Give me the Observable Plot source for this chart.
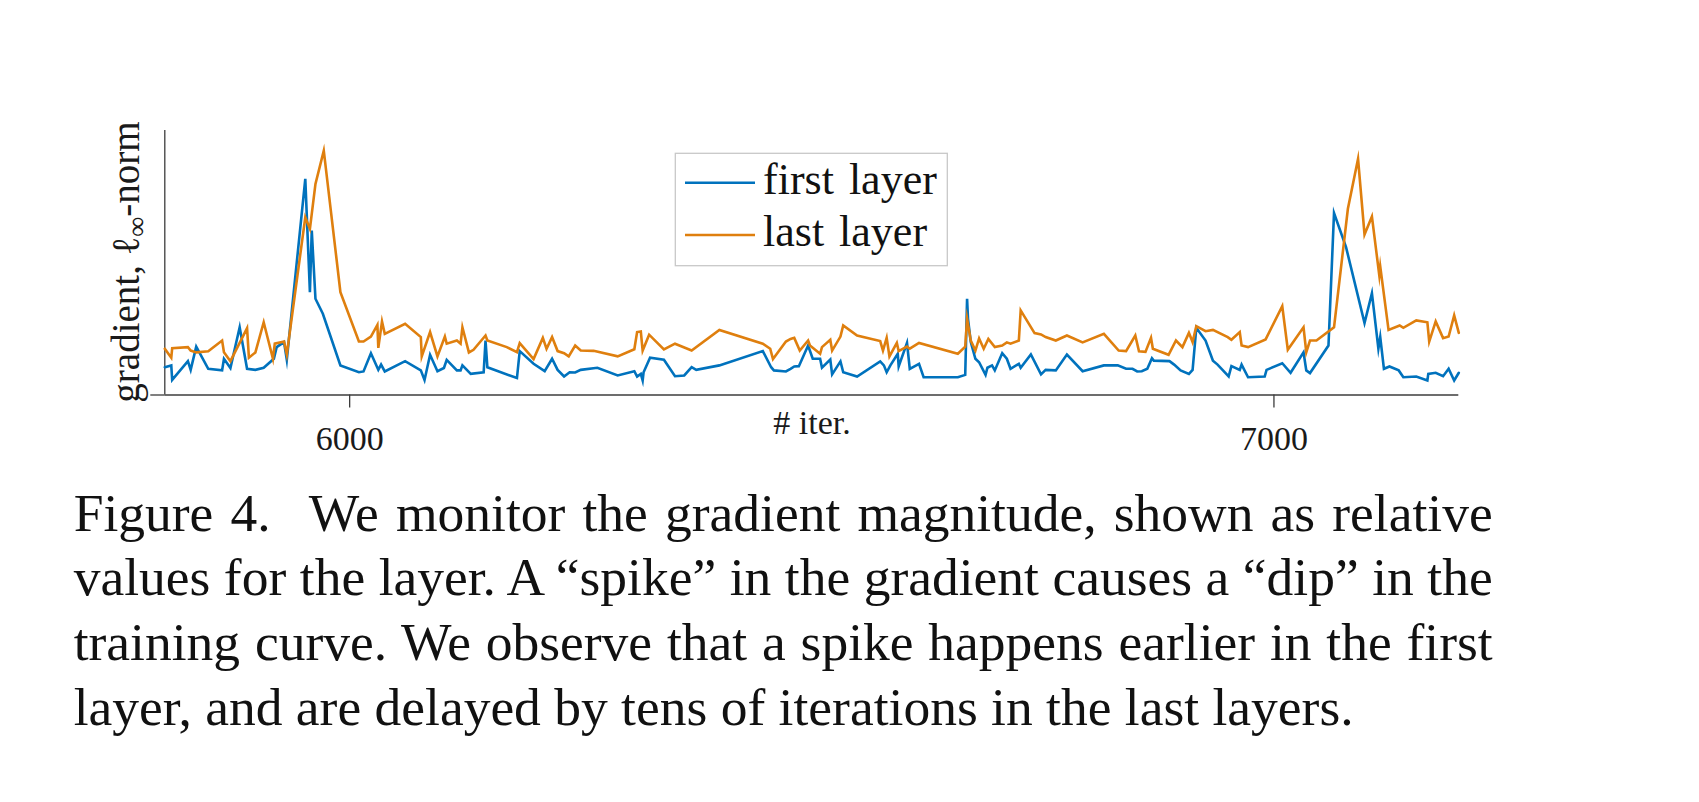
<!DOCTYPE html>
<html>
<head>
<meta charset="utf-8">
<script src="https://cdn.jsdelivr.net/npm/d3@7"></script>
<script src="https://cdn.jsdelivr.net/npm/@observablehq/plot@0.6"></script>
<style>
  html, body { margin: 0; padding: 0; background: #fff; }
  #wrap { position: relative; width: 1699px; height: 802px; overflow: hidden; }
  #chart { position: absolute; left: 0; top: 0; }
  #caption { position: absolute; left: 73.7px; top: 480.6px; width: 1419px;
    font-family: "Liberation Serif", "Times New Roman", serif; font-size: 53.5px;
    line-height: 64.7px; color: #111; }
  #caption .ln { text-align: justify; text-align-last: justify; }
  #caption .last { text-align: left; text-align-last: left; }
</style>
</head>
<body>
<div id="wrap">
  <div id="chart"></div>
  <div id="caption">
    <div class="ln"><span style="margin-right:22px">Figure 4.</span> We monitor the gradient magnitude, shown as relative</div>
    <div class="ln">values for the layer. A “spike” in the gradient causes a “dip” in the</div>
    <div class="ln">training curve. We observe that a spike happens earlier in the first</div>
    <div class="last">layer, and are delayed by tens of iterations in the last layers.</div>
  </div>
</div>
<script>
// ---- data (relative gradient magnitude, % of axis height) ----
const firstIter = [5800,5807,5808,5825,5828,5834,5847,5862,5864,5871,5881,5889,5898,5907,5918,5921,5929,5932,5952,5957,5959,5963,5971,5990,6010,6015,6023,6031,6034,6038,6060,6077,6081,6087,6095,6102,6105,6116,6120,6122,6131,6145,6147,6149,6181,6184,6199,6211,6219,6225,6232,6238,6244,6250,6268,6290,6308,6311,6315,6317,6318,6325,6340,6352,6362,6370,6375,6400,6447,6456,6459,6472,6477,6481,6486,6496,6501,6509,6511,6520,6522,6531,6534,6549,6574,6578,6581,6585,6593,6594,6603,6606,6616,6621,6658,6666,6668,6669,6672,6677,6681,6688,6690,6695,6698,6706,6711,6715,6724,6726,6737,6748,6753,6764,6776,6793,6816,6824,6831,6840,6847,6852,6857,6863,6868,6870,6887,6892,6899,6908,6912,6916,6926,6934,6939,6951,6954,6963,6965,6972,6990,6992,7009,7018,7032,7035,7039,7059,7065,7078,7098,7106,7113,7115,7119,7125,7135,7140,7154,7166,7167,7175,7183,7189,7195,7200];
const firstVal = [10.5,11.2,5.7,12.8,9.5,18.3,9.9,9.3,13.7,10.2,25.6,9.9,9.5,10.3,13.7,18.1,20.0,13.3,81.7,38.9,62.2,36.4,30.7,11.2,8.6,8.9,15.8,9.5,11.5,8.9,12.8,9.3,5.7,15.2,9.0,10.2,13.3,9.3,9.3,11.2,8.0,8.6,20.6,10.5,6.4,16.6,11.8,9.0,13.7,9.5,7.0,8.6,8.5,9.5,10.3,7.4,9.0,7.0,8.0,5.5,8.6,14.1,13.3,7.1,7.4,10.5,9.5,11.2,16.6,10.5,9.3,8.9,9.9,10.8,10.9,18.7,13.7,13.7,10.3,13.4,7.8,12.7,8.6,7.0,12.7,11.2,8.6,11.2,15.6,10.8,19.7,9.9,11.8,6.7,6.7,7.6,36.4,28.8,20.0,13.7,12.4,7.6,10.3,11.2,9.3,15.8,13.7,9.9,11.8,10.3,15.3,7.8,9.5,9.3,15.3,9.0,11.2,11.2,11.2,9.9,9.9,8.9,9.0,9.9,13.9,13.0,12.8,11.5,9.3,8.0,9.5,25.4,20.6,13.0,11.5,7.0,10.9,9.5,11.5,6.7,7.0,9.5,12.0,8.4,16.1,9.3,8.3,18.7,68.8,55.9,27.2,38.5,17.5,21.9,9.9,10.8,9.3,6.7,7.0,5.5,8.0,8.4,7.1,9.9,5.5,8.4];

const lastIter = [5800,5807,5808,5825,5828,5834,5847,5862,5864,5871,5889,5891,5898,5907,5917,5919,5929,5932,5952,5957,5963,5972,5990,6010,6015,6023,6030,6031,6035,6038,6060,6077,6078,6087,6095,6103,6105,6116,6120,6122,6129,6134,6147,6149,6170,6181,6184,6199,6209,6213,6219,6225,6232,6237,6244,6250,6264,6290,6308,6311,6315,6317,6324,6340,6352,6370,6400,6447,6455,6458,6472,6477,6481,6487,6496,6498,6509,6511,6520,6522,6531,6534,6549,6574,6577,6581,6584,6592,6594,6603,6606,6616,6658,6666,6668,6672,6677,6681,6686,6691,6698,6706,6711,6715,6724,6726,6741,6748,6753,6764,6776,6793,6816,6832,6840,6850,6854,6861,6867,6869,6886,6894,6901,6908,6912,6916,6926,6934,6950,6954,6963,6965,6972,6991,7009,7015,7032,7035,7039,7046,7065,7080,7091,7098,7106,7114,7115,7124,7136,7140,7154,7166,7168,7175,7183,7189,7195,7200];
const lastVal = [17.5,14.1,17.7,18.1,16.8,16.1,16.5,20.6,16.2,12.8,25.3,14.1,16.1,27.5,13.7,19.4,20.2,15.3,67.2,62.8,79.8,92.4,38.9,20.2,20.2,22.1,26.5,17.8,27.8,23.1,26.9,21.9,14.6,23.8,14.6,22.1,19.4,20.6,19.4,25.6,16.1,17.1,22.5,20.6,18.1,16.2,19.6,13.6,21.6,17.5,21.9,16.6,15.8,14.6,18.7,16.8,16.7,14.6,17.3,23.8,24.0,16.8,22.8,17.2,19.4,16.8,24.6,19.4,17.5,13.6,20.2,21.2,21.6,16.8,20.6,18.7,15.6,18.1,20.9,16.8,22.1,26.3,22.5,20.4,16.8,21.6,14.6,19.7,16.6,18.3,17.5,19.7,15.6,18.3,28.8,20.6,16.8,21.4,17.5,21.2,18.1,18.7,19.9,19.4,20.6,32.0,23.4,22.9,21.9,20.6,22.5,19.9,23.1,16.8,16.6,22.5,16.5,16.3,21.6,17.5,15.2,20.6,18.1,23.5,20.0,26.0,24.1,24.6,21.9,20.9,23.8,18.7,18.1,21.0,33.6,17.1,25.6,16.2,20.6,20.6,25.6,70.4,89.3,60.7,67.5,45.2,48.6,24.6,26.3,25.4,28.2,27.5,20.2,27.8,21.5,22.1,30.1,23.5];

const xTicks = [6000, 7000];
const seriesNames = ["first layer", "last layer"];
const seriesColors = ["#0072bd", "#df7f0e"];
const xDomain = [5800, 7200];
const yDomain = [0, 100];

const first = firstIter.map((x, i) => ({iter: x, val: firstVal[i]}));
const last = lastIter.map((x, i) => ({iter: x, val: lastVal[i]}));

const axisColor = "#3c3c3c";
const lineW = 2.6;
const plot = Plot.plot({
  width: 1699,
  height: 480,
  marginLeft: 164.3,
  marginRight: 240.7,
  marginTop: 130,
  marginBottom: 85.5,
  x: {domain: xDomain, nice: false},
  y: {domain: yDomain},
  style: {fontFamily: "'Liberation Serif', 'Times New Roman', serif", fontSize: "34px", color: "#1a1a1a", background: "white", overflow: "visible"},
  marks: [
    Plot.axisY({ticks: [0], tickSize: 14, tickFormat: () => "", label: null, stroke: axisColor, strokeWidth: 1.3}),
    Plot.axisX({ticks: xTicks, tickSize: 13, tickPadding: 18, tickFormat: d => String(d), label: null, stroke: axisColor, strokeWidth: 1.3, fontSize: 34}),
    Plot.ruleY([0], {stroke: axisColor, strokeWidth: 1.3}),
    Plot.ruleX([xDomain[0]], {stroke: axisColor, strokeWidth: 1.3}),
    Plot.line(first, {x: "iter", y: "val", stroke: seriesColors[0], strokeWidth: lineW, strokeLinejoin: "miter", strokeMiterlimit: 10}),
    Plot.line(last, {x: "iter", y: "val", stroke: seriesColors[1], strokeWidth: lineW, strokeLinejoin: "miter", strokeMiterlimit: 10})
  ]
});
document.getElementById("chart").appendChild(plot);

const svg = d3.select(plot);
const serif = "'Liberation Serif', 'Times New Roman', serif";

// x label
svg.append("text")
  .attr("x", 812).attr("y", 434.3)
  .attr("text-anchor", "middle")
  .attr("font-family", serif).attr("font-size", 34).attr("fill", "#1a1a1a")
  .text("# iter.");

// y label
const yl = svg.append("text")
  .attr("transform", "translate(139,262) rotate(-90)")
  .attr("text-anchor", "middle")
  .attr("font-family", serif).attr("font-size", 39).attr("fill", "#1a1a1a");
yl.append("tspan").text("gradient, ℓ");
yl.append("tspan").attr("dy", "0.25em").attr("font-size", 28).text("∞");
yl.append("tspan").attr("dy", "-0.18em").text("-norm");

// legend
const lg = svg.append("g").attr("text-anchor", "start");
lg.append("rect").attr("x", 675.3).attr("y", 153.3).attr("width", 272).attr("height", 112.4)
  .attr("fill", "white").attr("stroke", "#c8c8c8").attr("stroke-width", 1.3);
const legY = [182.7, 235];
seriesNames.forEach((name, i) => {
  lg.append("line").attr("x1", 685).attr("x2", 755).attr("y1", legY[i]).attr("y2", legY[i])
    .attr("stroke", seriesColors[i]).attr("stroke-width", lineW);
  lg.append("text").attr("x", 763).attr("y", legY[i] + 10.8)
    .attr("text-anchor", "start")
    .attr("font-family", serif).attr("font-size", 44).attr("fill", "#111")
    .attr("word-spacing", 4)
    .text(name);
});
</script>
</body>
</html>
